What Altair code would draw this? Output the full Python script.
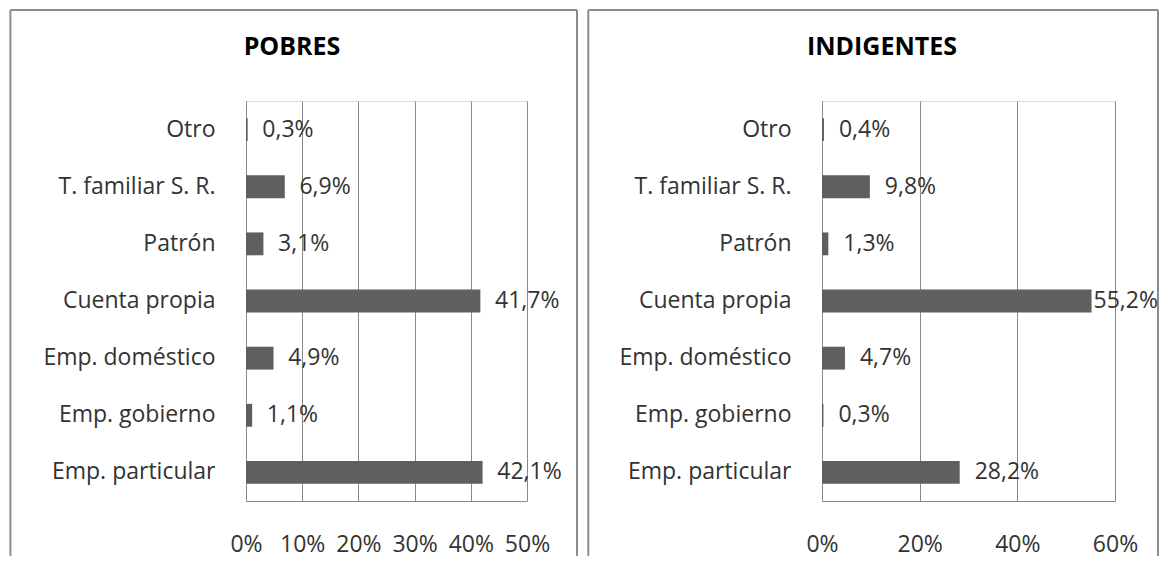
import altair as alt
import pandas as pd

categories = ["Otro", "T. familiar S. R.", "Patrón", "Cuenta propia",
              "Emp. doméstico", "Emp. gobierno", "Emp. particular"]
pobres = [0.3, 6.9, 3.1, 41.7, 4.9, 1.1, 42.1]
indigentes = [0.4, 9.8, 1.3, 55.2, 4.7, 0.3, 28.2]

FONT = "Open Sans"
FS = 23
GRID = "#8a8a8a"
BAR = "#5f5f5f"
TXT = "#333333"
BORDER = "#8c8c8c"


def panel(title, values, xmax, ticks, width, title_x, bx1, bx2, pad, clamp):
    df = pd.DataFrame({"cat": categories, "val": values})
    base = alt.Chart(df).transform_calculate(
        lbl="replace(format(datum.val, '.1f'), '.', ',') + '%'",
        lx=f"min(datum.val + {pad}, {clamp})",
    )
    y = alt.Y("cat:N", sort=categories,
              scale=alt.Scale(paddingInner=0.6, paddingOuter=0.3),
              axis=alt.Axis(title=None, ticks=False, domain=True, domainColor=GRID,
                            labelFont=FONT, labelFontSize=FS, labelColor=TXT,
                            labelPadding=31, grid=False))
    x = alt.X("val:Q", scale=alt.Scale(domain=[0, xmax], nice=False),
              axis=alt.Axis(title=None, values=ticks, labelExpr="datum.value + '%'",
                            ticks=False, domain=True, domainColor=GRID,
                            grid=True, gridColor=GRID, gridOpacity=1,
                            labelFlush=False, labelOverlap=False,
                            labelFont=FONT, labelFontSize=FS, labelColor=TXT,
                            labelPadding=32))
    bars = base.mark_bar(color=BAR).encode(y=y, x=x)
    labels = base.mark_text(align="left", baseline="middle", font=FONT,
                            fontSize=FS, color=TXT).encode(
        y=alt.Y("cat:N", sort=categories), x="lx:Q", text="lbl:N")
    tdf = pd.DataFrame({"t": [title]})
    ttl = alt.Chart(tdf).mark_text(font=FONT, fontSize=25, fontWeight="bold",
                                   color="#000000", align="center",
                                   baseline="middle").encode(
        text="t:N", x=alt.value(title_x), y=alt.value(-54))
    top_y, bot_y = -91, 455
    b_top = alt.Chart(tdf).mark_rule(color=BORDER, strokeWidth=2).encode(
        x=alt.value(bx1), x2=alt.value(bx2), y=alt.value(top_y))
    b_left = alt.Chart(tdf).mark_rule(color=BORDER, strokeWidth=2).encode(
        x=alt.value(bx1), y=alt.value(top_y), y2=alt.value(bot_y))
    b_right = alt.Chart(tdf).mark_rule(color=BORDER, strokeWidth=2).encode(
        x=alt.value(bx2), y=alt.value(top_y), y2=alt.value(bot_y))
    return alt.layer(b_top, b_left, b_right, bars, labels, ttl).properties(
        width=width, height=400)


left = panel("POBRES", pobres, 50, [0, 10, 20, 30, 40, 50], 281, 46,
             -235.6, 331, 2.61, 99)
right = panel("INDIGENTES", indigentes, 60, [0, 20, 40, 60], 293, 60,
              -233.7, 336, 3.07, 55.6)

chart = alt.hconcat(left, right, spacing=7).properties(padding=0).configure_view(
    stroke=None).configure(background="white")

chart.save("out.html", embed_options={"renderer": "svg", "actions": False})
